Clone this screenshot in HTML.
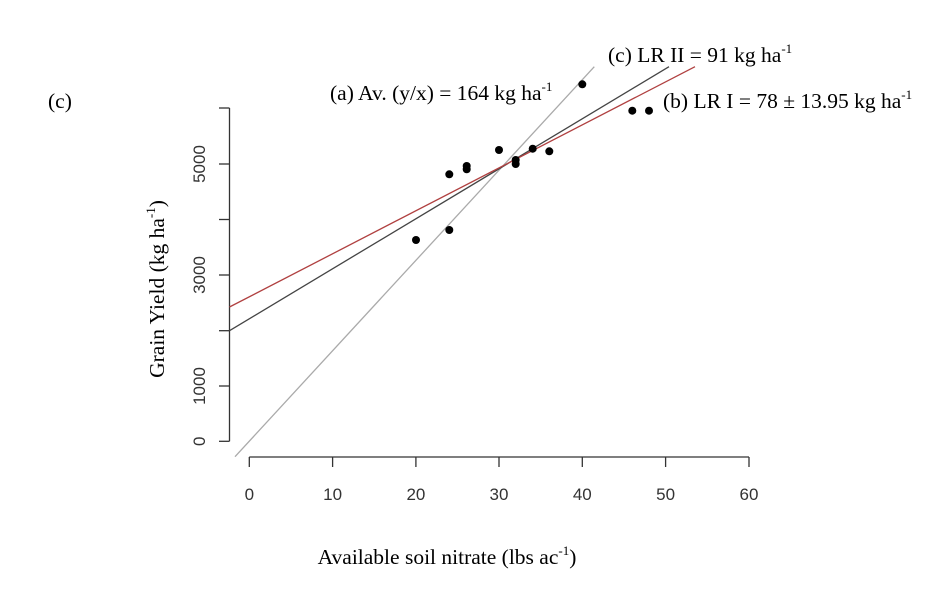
<!DOCTYPE html>
<html><head><meta charset="utf-8"><style>
body{margin:0;background:#fff}
svg{display:block}
.s{font-family:"Liberation Serif",serif;font-size:21.5px;fill:#000}
.t{font-family:"Liberation Sans",sans-serif;font-size:17px;fill:#333}
</style></head><body>
<svg width="950" height="598" viewBox="0 0 950 598">
<g stroke="#333" stroke-width="1.3" fill="none">
<line x1="229.5" y1="108" x2="229.5" y2="441.3"/>
<line x1="219" y1="108" x2="229.5" y2="108"/>
<line x1="219" y1="164" x2="229.5" y2="164"/>
<line x1="219" y1="219.5" x2="229.5" y2="219.5"/>
<line x1="219" y1="275" x2="229.5" y2="275"/>
<line x1="219" y1="330.7" x2="229.5" y2="330.7"/>
<line x1="219" y1="386" x2="229.5" y2="386"/>
<line x1="219" y1="441.3" x2="229.5" y2="441.3"/>
<line x1="249.3" y1="457" x2="749" y2="457"/>
<line x1="249.3" y1="457" x2="249.3" y2="467"/>
<line x1="332.6" y1="457" x2="332.6" y2="467"/>
<line x1="415.9" y1="457" x2="415.9" y2="467"/>
<line x1="499" y1="457" x2="499" y2="467"/>
<line x1="582.3" y1="457" x2="582.3" y2="467"/>
<line x1="665.6" y1="457" x2="665.6" y2="467"/>
<line x1="749" y1="457" x2="749" y2="467"/>
</g>
<g class="t" text-anchor="middle">
<text x="249.3" y="500">0</text><text x="332.6" y="500">10</text><text x="415.9" y="500">20</text>
<text x="499" y="500">30</text><text x="582.3" y="500">40</text><text x="665.6" y="500">50</text><text x="749" y="500">60</text>
<text transform="translate(205,441.3) rotate(-90)">0</text>
<text transform="translate(205,386) rotate(-90)">1000</text>
<text transform="translate(205,275) rotate(-90)">3000</text>
<text transform="translate(205,164) rotate(-90)">5000</text>
</g>
<line x1="235" y1="456.7" x2="594.3" y2="66.7" stroke="#aaa" stroke-width="1.3"/>
<line x1="229.5" y1="330.7" x2="669" y2="66.7" stroke="#444" stroke-width="1.3"/>
<line x1="229.5" y1="307" x2="695" y2="66.7" stroke="#b04040" stroke-width="1.3"/>
<g fill="#000">
<circle cx="416" cy="240" r="4"/><circle cx="449.3" cy="230" r="4"/><circle cx="449.3" cy="174.3" r="4"/>
<circle cx="466.7" cy="166" r="4"/><circle cx="466.7" cy="169.3" r="4"/><circle cx="499" cy="150" r="4"/>
<circle cx="515.7" cy="160" r="4"/><circle cx="515.7" cy="164" r="4"/><circle cx="532.7" cy="148.7" r="4"/>
<circle cx="549.3" cy="151.3" r="4"/><circle cx="582.3" cy="84.3" r="4"/><circle cx="632.3" cy="110.7" r="4"/>
<circle cx="649" cy="110.7" r="4"/>
</g>
<text class="s" x="48" y="108">(c)</text>
<text class="s" x="330" y="100">(a) Av. (y/x) = 164 kg ha<tspan font-size="13" dy="-9">-1</tspan></text>
<text class="s" x="608" y="62">(c) LR II = 91 kg ha<tspan font-size="13" dy="-9">-1</tspan></text>
<text class="s" x="663" y="108">(b) LR I = 78 ± 13.95 kg ha<tspan font-size="13" dy="-9">-1</tspan></text>
<text class="s" x="447" y="564" text-anchor="middle">Available soil nitrate (lbs ac<tspan font-size="13" dy="-9">-1</tspan><tspan dy="9">)</tspan></text>
<text class="s" transform="translate(164,289) rotate(-90)" text-anchor="middle">Grain Yield (kg ha<tspan font-size="13" dy="-9">-1</tspan><tspan dy="9">)</tspan></text>
</svg>
</body></html>
